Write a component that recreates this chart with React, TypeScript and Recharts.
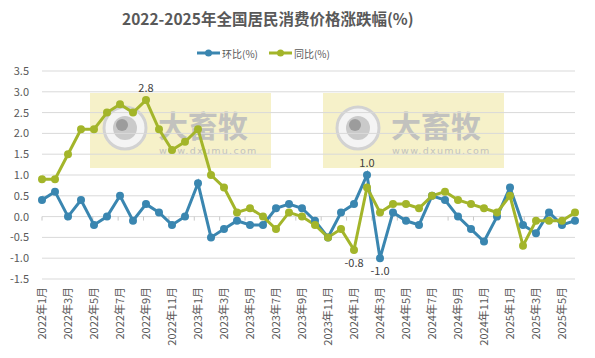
import React from 'react';
import * as Recharts from 'recharts';
import { CartesianGrid, Customized, LabelList, Legend, Line, LineChart, XAxis, YAxis } from 'recharts';

const months = [
  '2022年1月', '2022年2月', '2022年3月', '2022年4月', '2022年5月', '2022年6月',
  '2022年7月', '2022年8月', '2022年9月', '2022年10月', '2022年11月', '2022年12月',
  '2023年1月', '2023年2月', '2023年3月', '2023年4月', '2023年5月', '2023年6月',
  '2023年7月', '2023年8月', '2023年9月', '2023年10月', '2023年11月', '2023年12月',
  '2024年1月', '2024年2月', '2024年3月', '2024年4月', '2024年5月', '2024年6月',
  '2024年7月', '2024年8月', '2024年9月', '2024年10月', '2024年11月', '2024年12月',
  '2025年1月', '2025年2月', '2025年3月', '2025年4月', '2025年5月', '2025年6月',
];

// 环比(%)
const mom = [
  0.4, 0.6, 0.0, 0.4, -0.2, 0.0, 0.5, -0.1, 0.3, 0.1, -0.2, 0.0,
  0.8, -0.5, -0.3, -0.1, -0.2, -0.2, 0.2, 0.3, 0.2, -0.1, -0.5, 0.1,
  0.3, 1.0, -1.0, 0.1, -0.1, -0.2, 0.5, 0.4, 0.0, -0.3, -0.6, 0.0,
  0.7, -0.2, -0.4, 0.1, -0.2, -0.1,
];

// 同比(%)
const yoy = [
  0.9, 0.9, 1.5, 2.1, 2.1, 2.5, 2.7, 2.5, 2.8, 2.1, 1.6, 1.8,
  2.1, 1.0, 0.7, 0.1, 0.2, 0.0, -0.3, 0.1, 0.0, -0.2, -0.5, -0.3,
  -0.8, 0.7, 0.1, 0.3, 0.3, 0.2, 0.5, 0.6, 0.4, 0.3, 0.2, 0.1,
  0.5, -0.7, -0.1, -0.1, -0.1, 0.1,
];

// months whose point carries a data label
const momLabelled = ['2024年2月', '2024年3月'];
const yoyLabelled = ['2022年9月', '2024年1月'];

const yTicks = [-1.5, -1.0, -0.5, 0, 0.5, 1.0, 1.5, 2.0, 2.5, 3.0, 3.5];
const Y_MIN = -1.5;
const Y_MAX = 3.5;

const BLUE = '#3A86B0';
const GREEN = '#A3B52A';
const TEXT = '#595959';
const FONT = '"Noto Sans CJK SC", "Noto Sans", sans-serif';

const data = months.map((m, i) => ({
  month: m,
  mom: mom[i],
  yoy: yoy[i],
  momLabel: momLabelled.includes(m) ? mom[i] : null,
  yoyLabel: yoyLabelled.includes(m) ? yoy[i] : null,
}));

const usePlotArea: any = (Recharts as any).usePlotArea;

// category-axis tick marks sitting on the zero line, every two months (Excel style)
function ZeroTicks() {
  const area = usePlotArea ? usePlotArea() : null;
  if (!area) return null;
  const band = area.width / months.length;
  const y0 = area.y + (area.height * Y_MAX) / (Y_MAX - Y_MIN);
  const marks = [];
  for (let i = 0; i <= months.length; i += 2) {
    const x = area.x + i * band;
    marks.push(<line key={i} x1={x} x2={x} y1={y0} y2={y0 + 4} stroke="#c8c8c8" strokeWidth={1} />);
  }
  return <g>{marks}</g>;
}

function MonthTick({ x, y, payload }: any) {
  return (
    <text
      x={x}
      y={y}
      transform={`rotate(-90, ${x}, ${y})`}
      textAnchor="end"
      dy="0.35em"
      fontSize={11}
      fill={TEXT}
      fontFamily={FONT}
    >
      {payload.value}
    </text>
  );
}

function PointLabel({ x, y, value }: any) {
  if (value === null || value === undefined) return null;
  const below = value < 0;
  return (
    <text
      x={x}
      y={below ? y + 13 : y - 12}
      dy="0.35em"
      textAnchor="middle"
      fontSize={11}
      fill="#404040"
      fontFamily={FONT}
    >
      {Number(value).toFixed(1)}
    </text>
  );
}

function LegendBox() {
  const item = (color: string, name: string, gap: number) => (
    <span style={{ display: 'inline-flex', alignItems: 'center', marginRight: gap }}>
      <svg width={23} height={10}>
        <line x1={0} y1={5} x2={23} y2={5} stroke={color} strokeWidth={3} />
        <circle cx={11.5} cy={5} r={3.5} fill={color} />
      </svg>
      <span style={{ marginLeft: 2, fontSize: 10, color: TEXT, fontFamily: FONT }}>{name}</span>
    </span>
  );
  return (
    <div style={{ display: 'flex', paddingLeft: 197, height: 20, alignItems: 'center' }}>
      {item(BLUE, '环比(%)', 11)}
      {item(GREEN, '同比(%)', 0)}
    </div>
  );
}

function Watermark({ left }: { left: number }) {
  return (
    <div
      style={{
        position: 'absolute',
        left,
        top: 93,
        width: 181,
        height: 75,
        background: '#F6F1C9',
      }}
    >
      <svg width={181} height={75} style={{ position: 'absolute', left: 0, top: 0 }}>
        <circle cx={35} cy={35} r={21} fill="#f4f4f4" stroke="#d2d2d2" strokeWidth={3} />
        <circle cx={35} cy={35} r={12} fill="#cacaca" />
        <circle cx={32} cy={32} r={6} fill="#9c9c9c" />
        <text x={68} y={44} fontSize={30} fontWeight={700} fill="#c2c2be" fontFamily={FONT}>
          大畜牧
        </text>
        <text x={69} y={61} fontSize={9.5} letterSpacing={1.3} fill="#c2c2be" fontFamily="DejaVu Sans, sans-serif">
          www.dxumu.com
        </text>
      </svg>
    </div>
  );
}

export default function App() {
  return (
    <div style={{ position: 'absolute', left: 0, top: 0, width: 595, height: 358, background: '#fff' }}>
      <Watermark left={90} />
      <Watermark left={323} />
      <div
        style={{
          position: 'absolute',
          left: 122,
          top: 7,
          whiteSpace: 'nowrap',
          fontFamily: FONT,
          fontWeight: 700,
          fontSize: 15.5,
          color: TEXT,
        }}
      >
        2022-2025年全国居民消费价格涨跌幅(%)
      </div>
      <div style={{ position: 'absolute', left: 0, top: 0 }}>
        <LineChart
          width={595}
          height={358}
          data={data}
          margin={{ top: 51, right: 20, bottom: 0, left: 0 }}
        >
          <CartesianGrid horizontal vertical={false} stroke="#d9d9d9" strokeWidth={1} />
          <XAxis
            dataKey="month"
            interval={1}
            axisLine={false}
            tickLine={false}
            tickSize={0}
            tickMargin={8}
            height={79}
            tick={<MonthTick />}
          />
          <YAxis
            domain={[Y_MIN, Y_MAX]}
            ticks={yTicks}
            interval={0}
            axisLine={false}
            tickLine={false}
            tickSize={0}
            tickMargin={13}
            width={42}
            tickFormatter={(v: number) => v.toFixed(1)}
            tick={{ fontSize: 11, fill: TEXT, fontFamily: FONT }}
          />
          <Legend
            verticalAlign="top"
            height={20}
            wrapperStyle={{ top: 43, left: 0, width: 595 }}
            content={<LegendBox />}
          />
          <Customized component={<ZeroTicks />} />
          <Line
            dataKey="mom"
            name="环比(%)"
            stroke={BLUE}
            strokeWidth={3}
            dot={{ r: 4, fill: BLUE, stroke: BLUE, strokeWidth: 0 }}
            isAnimationActive={false}
          >
            <LabelList dataKey="momLabel" content={<PointLabel />} />
          </Line>
          <Line
            dataKey="yoy"
            name="同比(%)"
            stroke={GREEN}
            strokeWidth={3}
            dot={{ r: 4, fill: GREEN, stroke: GREEN, strokeWidth: 0 }}
            isAnimationActive={false}
          >
            <LabelList dataKey="yoyLabel" content={<PointLabel />} />
          </Line>
        </LineChart>
      </div>
    </div>
  );
}
